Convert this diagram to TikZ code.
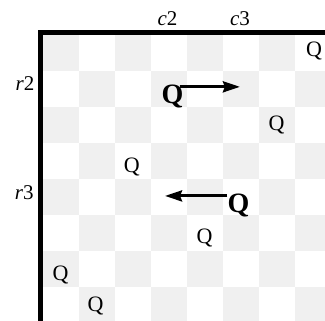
\documentclass[tikz,border=0pt]{standalone}
\usepackage{fontspec}
\setmainfont{Liberation Serif}
\usetikzlibrary{arrows.meta}
\definecolor{boardInk}{HTML}{000000}
\definecolor{boardShade}{HTML}{F0F0F0}
\tikzset{
  every picture/.style={text=boardInk},
  board shade/.style={fill=boardShade, draw=none},
  board rule/.style={draw=boardInk, line width=5.5pt, line join=miter, line cap=butt},
  queen/.style={inner sep=0pt, anchor=base, font=\fontsize{22}{26}\selectfont},
  queen moved/.style={inner sep=0pt, anchor=base, font=\fontsize{28}{32}\selectfont\bfseries},
  board label/.style={inner sep=0pt, anchor=base, font=\fontsize{21}{25}\selectfont},
  move arrow/.style={-{Stealth[length=17pt,width=11pt,inset=2pt]},
    draw=boardInk, line width=3pt, line cap=butt}
}

\begin{document}
\begin{tikzpicture}[x=36pt,y=-36pt]
  \useasboundingbox (-1.194,-0.972) rectangle (7.833,7.917);
  \begin{scope}
    \clip (-1.194,-0.972) rectangle (7.833,7.917);
    \foreach \i in {0,...,7}
      \foreach \j in {0,...,7}{
        \pgfmathparse{int(mod(\i+\j,2))}
        \ifnum\pgfmathresult=0
          \fill[board shade] (\i,\j) rectangle ++(1,1);
        \fi
      }
    \draw[board rule] (8,-0.069) -- (-0.069,-0.069) -- (-0.069,8);
  \end{scope}
  % column and row labels
  \node[board label] (c2) at (3.46,-0.25) {\textit{c}2};
  \node[board label] (c3) at (5.47,-0.25) {\textit{c}3};
  \node[board label] (r2) at (-0.50,1.53) {\textit{r}2};
  \node[board label] (r3) at (-0.52,4.56) {\textit{r}3};
  % queens
  \foreach \col/\base [count=\k] in {7.53/0.61, 6.49/2.64, 2.47/3.81, 4.49/5.78, 0.49/6.81, 1.46/7.69}
    \node[queen] (q\k) at (\col,\base) {Q};
  \node[queen moved] (qr2) at (3.60,1.89) {Q};
  \node[queen moved] (qr3) at (5.43,4.94) {Q};
  \coordinate (r2tip) at (5.47,1.44);
  \coordinate (r3tip) at (3.39,4.47);
  \draw[move arrow] ([xshift=-4pt]qr2.east |- r2tip) -- (r2tip);
  \draw[move arrow] (qr3.west |- r3tip) -- (r3tip);
\end{tikzpicture}
\end{document}
